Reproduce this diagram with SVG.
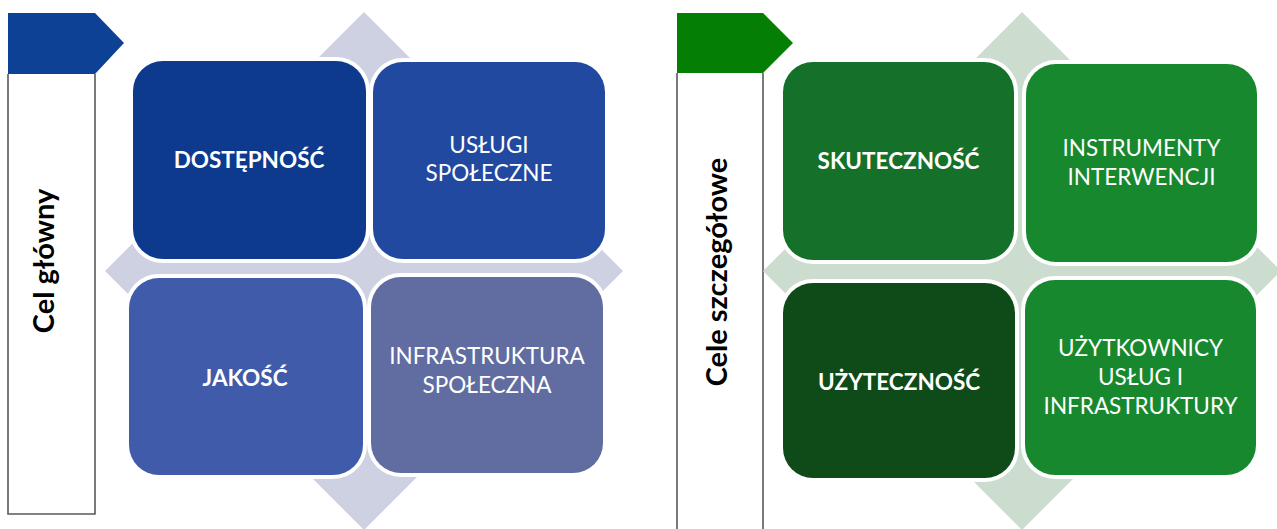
<svg xmlns="http://www.w3.org/2000/svg" width="1277" height="529" viewBox="0 0 1277 529">
  <style>
    .frame { fill: none; stroke: #595959; stroke-width: 1.6; }
    .box { stroke: #ffffff; stroke-width: 8; paint-order: stroke; }
    .t { font-family: Lato, "Open Sans", "Liberation Sans", sans-serif; fill: #ffffff; font-size: 22.5px; text-anchor: middle; }
    .b { font-weight: bold; }
    .side { font-family: Lato, "Open Sans", "Liberation Sans", sans-serif; font-weight: bold; font-size: 29px; fill: #000000; text-anchor: middle; }
  </style>
  <rect width="1277" height="529" fill="#ffffff"/>

  <!-- Left panel -->
  <g id="label-cel-glowny">
    <path class="frame" d="M8,74 L8,514 L95,514 L95,74"/>
    <polygon points="8,13 95,13 124,43 95,74 8,74" fill="#0C4196"/>
    <text class="side" transform="translate(54,261) rotate(-90)">Cel główny</text>
  </g>
  <g id="background-left">
    <polygon points="364,12 623,271 364,530 105,271" fill="#CDD1E1"/>
  </g>
  <g id="node-dostepnosc">
    <rect class="box" x="133" y="61" width="233" height="198" rx="30" fill="#0D3A8C"/>
    <text class="t b" x="249" y="168">DOSTĘPNOŚĆ</text>
  </g>
  <g id="node-uslugi">
    <rect class="box" x="373" y="62" width="232" height="197" rx="30" fill="#2249A0"/>
    <text class="t" x="489" y="153">USŁUGI</text>
    <text class="t" x="489" y="181">SPOŁECZNE</text>
  </g>
  <g id="node-jakosc">
    <rect class="box" x="129" y="278" width="234" height="197" rx="30" fill="#405BAA"/>
    <text class="t b" x="245" y="386">JAKOŚĆ</text>
  </g>
  <g id="node-infrastruktura">
    <rect class="box" x="371" y="277" width="232" height="196" rx="30" fill="#616CA1"/>
    <text class="t" x="487" y="364">INFRASTRUKTURA</text>
    <text class="t" x="487" y="393">SPOŁECZNA</text>
  </g>

  <!-- Right panel -->
  <g id="label-cele-szczegolowe">
    <path class="frame" d="M677,73 L677,529 M763,73 L763,529"/>
    <polygon points="677,13 763,13 793,43 763,73 677,73" fill="#047F04"/>
    <text class="side" transform="translate(727,272) rotate(-90)">Cele szczegółowe</text>
  </g>
  <g id="background-right">
    <polygon points="1022,12 1281,271 1022,530 763,271" fill="#CCDDCF"/>
  </g>
  <g id="node-skutecznosc">
    <rect class="box" x="783" y="62" width="231" height="198" rx="30" fill="#157129"/>
    <text class="t b" x="898.5" y="169">SKUTECZNOŚĆ</text>
  </g>
  <g id="node-instrumenty">
    <rect class="box" x="1026" y="64" width="231" height="198" rx="30" fill="#18882E"/>
    <text class="t" x="1141.5" y="156">INSTRUMENTY</text>
    <text class="t" x="1141.5" y="185">INTERWENCJI</text>
  </g>
  <g id="node-uzytecznosc">
    <rect class="box" x="783" y="283" width="232" height="195" rx="30" fill="#0F4A19"/>
    <text class="t b" x="899" y="390">UŻYTECZNOŚĆ</text>
  </g>
  <g id="node-uzytkownicy">
    <rect class="box" x="1025" y="280" width="231" height="195" rx="30" fill="#18882E"/>
    <text class="t" x="1140.5" y="356">UŻYTKOWNICY</text>
    <text class="t" x="1140.5" y="385">USŁUG I</text>
    <text class="t" x="1140.5" y="414">INFRASTRUKTURY</text>
  </g>

  <g id="connectors"></g>
</svg>
